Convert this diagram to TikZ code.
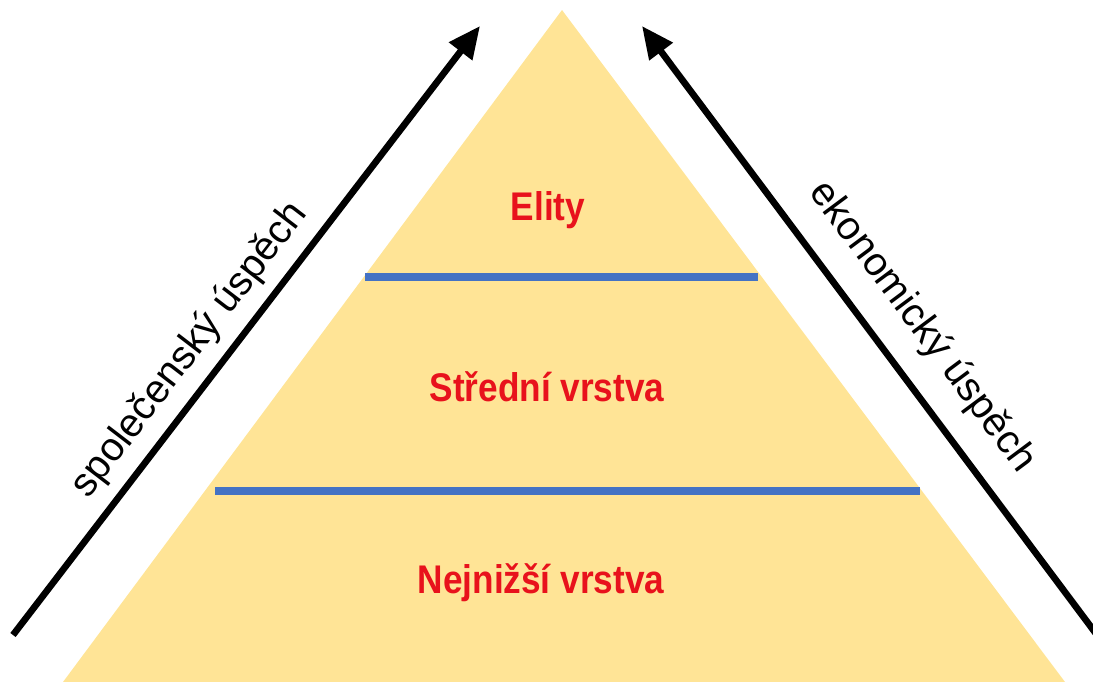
\documentclass[tikz,border=0pt]{standalone}
\usepackage{fontspec}
\setmainfont{Liberation Sans}
\usetikzlibrary{arrows.meta}
\definecolor{pyrfill}{RGB}{255,228,150}
\definecolor{layerline}{RGB}{68,114,196}
\definecolor{labred}{RGB}{232,18,28}
\tikzset{
  pyramid/.style={fill=pyrfill, draw=none},
  divider/.style={draw=layerline, line width=5.5pt, line cap=butt},
  layerlabel/.style={text=labred, font=\fontsize{30}{36}\selectfont\bfseries, xscale=0.88, anchor=base, inner sep=0pt},
  axisarrow/.style={draw=black, line width=5pt, -{Triangle[length=24pt,width=21pt]}},
  axislabel/.style={text=black, font=\fontsize{30}{36}\selectfont, inner sep=0pt}
}
\begin{document}
\begin{tikzpicture}[x=0.75pt,y=-0.75pt]
\useasboundingbox (0,0) rectangle (1093,682);
% pyramid
\coordinate (apex) at (562,10);
\coordinate (bl) at (63,682);
\coordinate (br) at (1065,682);
\path[pyramid] (bl) -- (apex) -- (br) -- cycle;
% dividers
\coordinate (d1a) at (365,277);
\coordinate (d1b) at (758,277);
\coordinate (d2a) at (215,491);
\coordinate (d2b) at (920,491);
\draw[divider] (d1a) -- (d1b);
\draw[divider] (d2a) -- (d2b);
% layer labels
\node[layerlabel] (elity) at (548,220) {Elity};
\node[layerlabel] (stredni) at (547,401) {Střední vrstva};
\node[layerlabel] (nejnizsi) at (541,593) {Nejnižší vrstva};
% arrows
\coordinate (la0) at (13,635);
\coordinate (la1) at (480,26);
\coordinate (ra0) at (1100,639);
\coordinate (ra1) at (642,26);
\draw[axisarrow] (la0) -- (la1);
\draw[axisarrow] (ra0) -- (ra1);
% axis labels
\node[axislabel, rotate=52.5] (spol) at (190,350) {společenský úspěch};
\node[axislabel, rotate=-53.3] (ekon) at (922,327) {ekonomický úspěch};
\end{tikzpicture}
\end{document}
